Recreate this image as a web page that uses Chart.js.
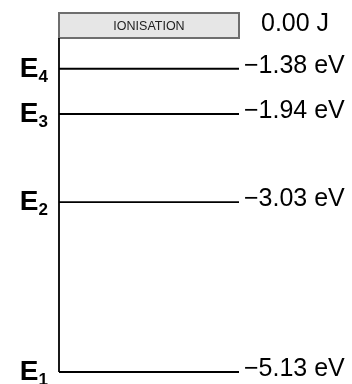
<!DOCTYPE html>
<html>
<head>
<meta charset="utf-8">
<script src="https://cdn.jsdelivr.net/npm/chart.js@4/dist/chart.umd.min.js"></script>
<style>
  html, body { margin: 0; padding: 0; background: #fff; }
  #wrap { width: 352px; height: 384px; }
</style>
</head>
<body>
<div id="wrap"><canvas id="chart"></canvas></div>
<script>
// energy levels, lowest first
const levelSubs = ['1', '2', '3', '4'];
const levelValues = [-5.13, -3.03, -1.94, -1.38];
const levelUnit = 'eV';
const ionisationText = 'IONISATION';
const ionisationLabel = '0.00 J';

function fmtEnergy(v) {
    return (v < 0 ? '\u2212' : '') + Math.abs(v).toFixed(2) + ' ' + levelUnit;
}

const datasets = levelValues.map(function (v) {
    return {
        data: [{x: 0, y: v}, {x: 1, y: v}],
        borderColor: '#000',
        borderWidth: 1.8,
        pointRadius: 0,
        clip: false
    };
});

// draws the axis line, the ionisation box and all the text labels
const levelLabels = {
    id: 'levelLabels',
    afterDatasetsDraw(chart) {
        const ctx = chart.ctx;
        const area = chart.chartArea;
        const y = chart.scales.y;
        ctx.save();

        // ionisation box above the plot
        const boxTop = 13;
        ctx.fillStyle = '#e6e6e6';
        ctx.fillRect(area.left, boxTop, area.right - area.left, area.top - boxTop);
        ctx.strokeStyle = '#6e6e6e';
        ctx.lineWidth = 2;
        ctx.strokeRect(area.left, boxTop, area.right - area.left, area.top - boxTop);
        ctx.fillStyle = '#222';
        ctx.font = '12.5px "Liberation Sans", Arial, sans-serif';
        ctx.textAlign = 'center';
        ctx.textBaseline = 'middle';
        ctx.fillText(ionisationText, (area.left + area.right) / 2, (boxTop + area.top) / 2 + 1.5);

        ctx.fillStyle = '#000';
        ctx.font = '25px "Liberation Sans", Arial, sans-serif';
        ctx.textAlign = 'left';
        ctx.fillText(ionisationLabel, area.right + 22, (boxTop + area.top) / 2 - 1);

        // vertical axis line
        ctx.strokeStyle = '#000';
        ctx.lineWidth = 1.8;
        ctx.beginPath();
        ctx.moveTo(area.left, area.top);
        ctx.lineTo(area.left, area.bottom);
        ctx.stroke();

        levelValues.forEach(function (v, i) {
            const py = y.getPixelForValue(v);

            // right hand value
            ctx.font = '25px "Liberation Sans", Arial, sans-serif';
            ctx.textAlign = 'left';
            ctx.textBaseline = 'middle';
            ctx.fillText(fmtEnergy(v), area.right + 5, py - 3);

            // left hand E with subscript
            ctx.textBaseline = 'alphabetic';
            ctx.font = 'bold 28px "Liberation Sans", Arial, sans-serif';
            const wE = ctx.measureText('E').width;
            ctx.font = 'bold 17px "Liberation Sans", Arial, sans-serif';
            const wS = ctx.measureText(levelSubs[i]).width;
            const x0 = area.left - 11 - wE - wS;
            ctx.font = 'bold 28px "Liberation Sans", Arial, sans-serif';
            ctx.fillText('E', x0, py + 8);
            ctx.font = 'bold 17px "Liberation Sans", Arial, sans-serif';
            ctx.fillText(levelSubs[i], x0 + wE, py + 13);
        });

        ctx.restore();
    }
};

new Chart(document.getElementById('chart').getContext('2d'), {
    type: 'line',
    data: { datasets: datasets },
    options: {
        responsive: true,
        maintainAspectRatio: false,
        animation: false,
        layout: {
            padding: { left: 59, right: 113, top: 38, bottom: 12 }
        },
        scales: {
            x: { type: 'linear', min: 0, max: 1, display: false },
            y: { type: 'linear', min: -5.13, max: -1.0, display: false }
        },
        plugins: {
            legend: { display: false },
            tooltip: { enabled: false }
        }
    },
    plugins: [levelLabels]
});
</script>
</body>
</html>
